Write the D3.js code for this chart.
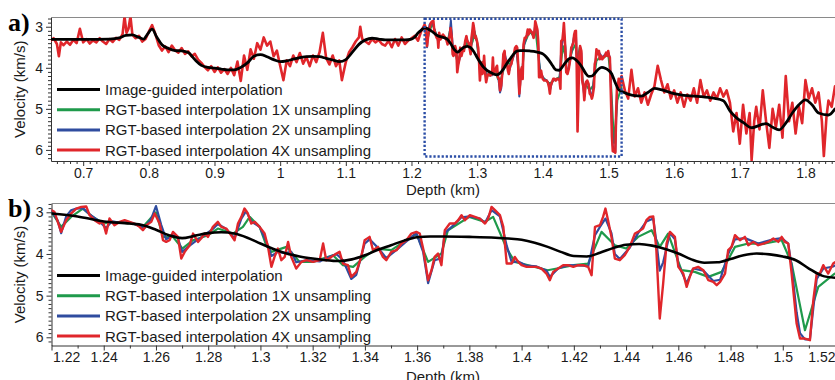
<!DOCTYPE html>
<html>
<head>
<meta charset="utf-8">
<script src="https://cdn.jsdelivr.net/npm/d3@7/dist/d3.min.js"></script>
<style>
  body { margin: 0; background: #fff; }
  svg { display: block; font-family: "Liberation Sans", Arial, Helvetica, sans-serif; }
</style>
</head>
<body>
<svg id="chart" width="835" height="380"></svg>
<script>
// ---- axis ticks and legend text ----
const depthTicksA = [0.7, 0.8, 0.9, 1, 1.1, 1.2, 1.3, 1.4, 1.5, 1.6, 1.7, 1.8];
const depthTicksB = [1.22, 1.24, 1.26, 1.28, 1.3, 1.32, 1.34, 1.36, 1.38, 1.4, 1.42, 1.44, 1.46, 1.48, 1.5, 1.52];
const velocityTicks = [3, 4, 5, 6];
const seriesLabels = [
  "Image-guided interpolation",
  "RGT-based interpolation 1X unsampling",
  "RGT-based interpolation 2X unsampling",
  "RGT-based interpolation 4X unsampling"
];
const zoomWindow = { depth: [1.22, 1.52], velocity: [2.805, 6.16] };

// ---- image-guided interpolation: [depth km, velocity km/s] ----
const imageGuidedUpper = [
  [0.650,3.31],[0.700,3.31],[0.740,3.30],[0.755,3.27],[0.765,3.21],[0.775,3.20],[0.785,3.26],[0.792,3.30],
  [0.798,3.18],[0.805,3.06],[0.812,3.25],[0.820,3.44],[0.830,3.53],[0.840,3.58],[0.850,3.59],[0.860,3.63],
  [0.870,3.80],[0.880,3.94],[0.890,3.99],[0.900,4.01],[0.910,4.03],[0.920,4.05],[0.930,4.05],[0.940,3.99],
  [0.950,3.88],[0.960,3.72],[0.970,3.68],[0.980,3.73],[0.990,3.80],[1.000,3.85],[1.010,3.83],[1.020,3.79],
  [1.030,3.75],[1.040,3.73],[1.050,3.72],[1.060,3.73],[1.070,3.77],[1.080,3.81],[1.090,3.85],[1.100,3.80],
  [1.110,3.62],[1.120,3.43],[1.130,3.32],[1.140,3.28],[1.150,3.30],[1.160,3.32],[1.170,3.32],[1.180,3.32],
  [1.190,3.32],[1.200,3.30],[1.205,3.25],[1.210,3.15],[1.215,3.08]
];
const imageGuidedZoom = [
  [1.220,3.03],[1.230,3.10],[1.240,3.22],[1.250,3.27],[1.255,3.31],[1.260,3.42],[1.265,3.55],[1.270,3.62],
  [1.275,3.56],[1.280,3.50],[1.285,3.48],[1.290,3.51],[1.295,3.61],[1.300,3.75],[1.305,3.88],[1.310,3.99],
  [1.315,4.06],[1.320,4.11],[1.325,4.15],[1.330,4.17],[1.335,4.13],[1.340,4.03],[1.345,3.90],[1.350,3.79],
  [1.355,3.68],[1.360,3.60],[1.365,3.58],[1.370,3.58],[1.380,3.59],[1.390,3.61],[1.395,3.63],[1.400,3.66],
  [1.405,3.73],[1.410,3.83],[1.415,3.95],[1.420,4.05],[1.425,4.06],[1.430,3.97],[1.435,3.86],[1.440,3.78],
  [1.445,3.76],[1.450,3.80],[1.455,3.88],[1.460,3.99],[1.465,4.13],[1.470,4.21],[1.475,4.20],[1.480,4.12],
  [1.485,4.03],[1.490,3.99],[1.495,4.01],[1.500,4.06],[1.505,4.15],[1.510,4.35],[1.515,4.52],[1.520,4.57]
];
const imageGuidedLower = [
  [1.530,4.64],[1.540,4.68],[1.550,4.69],[1.560,4.60],[1.570,4.50],[1.580,4.53],[1.590,4.58],[1.600,4.63],
  [1.610,4.66],[1.620,4.68],[1.640,4.70],[1.660,4.74],[1.675,4.80],[1.685,5.05],[1.695,5.22],[1.705,5.33],
  [1.718,5.46],[1.730,5.40],[1.740,5.36],[1.750,5.45],[1.760,5.51],[1.770,5.35],[1.780,5.10],[1.790,4.90],
  [1.800,4.78],[1.810,4.90],[1.820,5.10],[1.835,5.15],[1.845,5.00]
];

// ---- RGT-based interpolation, 4X ----
const rgt4xUpper = [
  [0.650,3.35],[0.655,3.28],[0.660,3.42],[0.663,3.72],[0.666,3.38],[0.670,3.45],[0.675,3.36],[0.680,3.44],
  [0.685,3.32],[0.690,3.40],[0.695,3.05],[0.700,3.38],[0.705,3.30],[0.710,3.41],[0.715,3.33],[0.720,3.38],
  [0.725,3.28],[0.730,3.36],[0.735,3.42],[0.740,3.30],[0.745,3.37],[0.750,3.27],[0.755,3.32],[0.760,3.18],
  [0.763,2.75],[0.766,3.15],[0.769,3.05],[0.772,2.75],[0.775,3.20],[0.780,3.28],[0.785,3.22],[0.790,3.36],
  [0.795,3.30],[0.800,3.12],[0.805,2.96],[0.810,3.18],[0.815,3.45],[0.820,3.58],[0.825,3.48],[0.830,3.62],
  [0.835,3.46],[0.840,3.57],[0.845,3.63],[0.850,3.52],[0.855,3.66],[0.860,3.60],[0.865,3.72],[0.870,3.66],
  [0.875,3.80],[0.880,3.88],[0.885,3.98],[0.890,4.06],[0.895,3.96],[0.900,4.10],[0.905,3.99],[0.910,4.12],
  [0.915,4.03],[0.920,4.15],[0.925,4.00],[0.930,4.18],[0.935,3.85],[0.940,4.32],[0.945,3.70],[0.950,4.05],
  [0.955,3.55],[0.960,3.78],[0.965,3.40],[0.970,3.56],[0.975,3.26],[0.980,3.46],[0.985,3.36],[0.990,3.72],
  [0.995,3.58],[1.000,3.95],[1.005,4.30],[1.010,3.82],[1.015,3.96],[1.020,3.70],[1.025,3.86],[1.030,3.64],
  [1.035,3.90],[1.040,3.74],[1.045,3.96],[1.050,3.70],[1.055,3.86],[1.060,3.62],[1.065,3.15],[1.070,3.76],
  [1.075,3.92],[1.080,3.70],[1.085,3.96],[1.090,3.82],[1.094,4.30],[1.100,3.86],[1.105,3.62],[1.110,3.50],
  [1.115,3.36],[1.120,3.26],[1.122,3.00],[1.125,3.30],[1.130,3.36],[1.135,3.42],[1.140,3.30],[1.145,3.38],
  [1.150,3.32],[1.155,3.42],[1.160,3.46],[1.165,3.34],[1.170,3.50],[1.175,3.30],[1.180,3.46],[1.185,3.26],
  [1.190,3.42],[1.195,3.34],[1.200,3.28],[1.205,3.22],[1.210,3.34],[1.215,3.10]
];
const rgt4xZoom = [
  [1.2200,2.95],[1.2211,2.99],[1.2237,3.47],[1.2256,3.19],[1.2275,3.03],[1.2295,2.91],[1.2314,2.87],[1.2333,2.86],
  [1.2346,3.07],[1.2365,3.19],[1.2384,3.27],[1.2397,3.23],[1.2409,3.51],[1.2422,3.15],[1.2441,3.31],[1.2461,3.23],
  [1.2480,3.19],[1.2499,3.23],[1.2518,3.27],[1.2537,3.35],[1.2550,3.43],[1.2563,3.31],[1.2582,3.23],[1.2595,3.03],
  [1.2614,3.27],[1.2627,3.67],[1.2639,3.71],[1.2652,3.67],[1.2665,3.47],[1.2684,3.59],[1.2697,4.11],[1.2710,3.95],
  [1.2729,3.79],[1.2742,3.51],[1.2761,3.71],[1.2773,3.63],[1.2786,3.51],[1.2799,3.59],[1.2818,3.35],[1.2837,3.23],
  [1.2850,3.35],[1.2869,3.39],[1.2888,3.55],[1.2901,3.67],[1.2914,3.27],[1.2927,3.11],[1.2939,2.91],[1.2952,3.03],
  [1.2965,3.27],[1.2978,3.23],[1.2997,3.35],[1.3016,3.51],[1.3029,3.83],[1.3042,4.31],[1.3054,4.07],[1.3067,3.87],
  [1.3080,4.15],[1.3093,4.07],[1.3106,3.71],[1.3118,4.07],[1.3137,4.35],[1.3157,4.19],[1.3176,4.15],[1.3201,4.19],
  [1.3227,4.15],[1.3240,3.75],[1.3252,4.15],[1.3272,4.07],[1.3291,3.99],[1.3303,3.95],[1.3316,4.23],[1.3335,4.27],
  [1.3348,4.55],[1.3367,4.43],[1.3386,4.07],[1.3399,3.67],[1.3418,3.59],[1.3431,3.91],[1.3450,3.83],[1.3469,4.07],
  [1.3482,4.15],[1.3501,3.95],[1.3521,3.91],[1.3540,3.75],[1.3559,3.67],[1.3578,3.51],[1.3597,3.47],[1.3610,3.51],
  [1.3623,3.87],[1.3642,4.63],[1.3655,4.39],[1.3667,4.07],[1.3680,3.99],[1.3693,4.27],[1.3706,3.43],[1.3725,3.27],
  [1.3744,3.27],[1.3757,3.19],[1.3770,3.07],[1.3783,3.19],[1.3802,3.07],[1.3821,3.11],[1.3840,3.15],[1.3860,3.27],
  [1.3872,3.15],[1.3885,2.87],[1.3898,2.95],[1.3917,3.07],[1.3930,3.35],[1.3943,4.23],[1.3962,4.23],[1.3974,4.07],
  [1.3987,4.19],[1.4000,4.27],[1.4019,4.31],[1.4038,4.31],[1.4057,4.31],[1.4076,4.35],[1.4095,4.47],[1.4108,4.63],
  [1.4121,4.43],[1.4140,4.35],[1.4159,4.27],[1.4178,4.27],[1.4198,4.31],[1.4217,4.27],[1.4236,4.27],[1.4255,4.31],
  [1.4268,4.51],[1.4281,3.35],[1.4300,3.31],[1.4312,3.11],[1.4321,2.91],[1.4331,3.19],[1.4344,3.59],[1.4357,4.11],
  [1.4376,4.15],[1.4395,4.03],[1.4414,3.83],[1.4434,3.51],[1.4446,3.47],[1.4465,3.39],[1.4478,3.19],[1.4491,3.11],
  [1.4504,3.10],[1.4516,3.91],[1.4529,5.55],[1.4542,4.71],[1.4555,3.75],[1.4568,3.47],[1.4587,3.59],[1.4600,4.31],
  [1.4619,4.47],[1.4632,4.79],[1.4644,4.55],[1.4657,4.35],[1.4676,4.31],[1.4696,4.39],[1.4715,4.63],[1.4734,4.67],
  [1.4747,4.75],[1.4760,4.67],[1.4779,4.47],[1.4791,3.91],[1.4804,3.83],[1.4817,3.55],[1.4836,3.67],[1.4855,3.59],
  [1.4868,3.79],[1.4887,3.71],[1.4906,3.79],[1.4926,3.75],[1.4945,3.71],[1.4964,3.63],[1.4983,3.71],[1.4996,3.59],
  [1.5008,3.71],[1.5021,3.75],[1.5034,4.47],[1.5053,5.67],[1.5066,6.03],[1.5085,6.03],[1.5104,6.07],[1.5117,5.11],
  [1.5130,4.47],[1.5142,4.47],[1.5155,4.27],[1.5174,4.47],[1.5193,4.23],[1.5200,4.20]
];
const rgt4xLower = [
  [1.525,4.55],[1.530,4.75],[1.535,4.05],[1.540,4.70],[1.545,4.50],[1.550,4.85],[1.555,4.60],[1.560,4.90],
  [1.565,4.65],[1.570,4.45],[1.575,3.95],[1.580,4.30],[1.585,4.60],[1.590,4.40],[1.595,4.75],[1.600,4.55],
  [1.605,4.85],[1.610,4.60],[1.615,4.95],[1.620,4.65],[1.625,4.80],[1.630,4.50],[1.635,4.85],[1.640,4.30],
  [1.645,4.70],[1.650,4.55],[1.655,4.80],[1.660,4.60],[1.665,4.75],[1.670,4.50],[1.675,4.70],[1.680,4.55],
  [1.685,4.85],[1.690,5.55],[1.695,5.10],[1.700,5.85],[1.705,4.90],[1.710,5.60],[1.715,5.10],[1.718,6.25],
  [1.722,5.30],[1.725,4.95],[1.730,5.50],[1.735,4.55],[1.740,5.30],[1.745,5.95],[1.750,5.00],[1.755,5.45],
  [1.760,4.90],[1.765,5.70],[1.770,4.20],[1.775,5.30],[1.780,4.85],[1.785,5.60],[1.790,4.95],[1.795,5.35],
  [1.800,4.30],[1.805,4.75],[1.810,4.50],[1.815,4.85],[1.820,4.60],[1.825,5.30],[1.828,6.15],[1.832,5.20],
  [1.835,4.80],[1.840,4.95],[1.845,4.45]
];

// ---- RGT-based interpolation, 2X (zoomed interval) ----
const rgt2xZoom = [
  [1.2200,2.97],[1.2224,3.20],[1.2237,3.50],[1.2256,3.10],[1.2275,2.95],[1.2295,2.91],[1.2320,2.90],[1.2346,3.05],
  [1.2384,3.22],[1.2409,3.38],[1.2430,3.22],[1.2461,3.25],[1.2499,3.24],[1.2537,3.33],[1.2556,3.38],[1.2582,3.15],
  [1.2600,2.85],[1.2620,3.30],[1.2639,3.65],[1.2665,3.55],[1.2684,3.62],[1.2700,3.95],[1.2729,3.80],[1.2761,3.65],
  [1.2786,3.55],[1.2818,3.40],[1.2837,3.28],[1.2869,3.40],[1.2901,3.62],[1.2927,3.15],[1.2945,2.97],[1.2965,3.22],
  [1.2997,3.35],[1.3029,3.80],[1.3042,4.05],[1.3067,3.95],[1.3093,3.98],[1.3118,3.95],[1.3137,4.20],[1.3176,4.15],
  [1.3227,4.18],[1.3252,4.10],[1.3291,4.00],[1.3316,4.15],[1.3348,4.60],[1.3367,4.50],[1.3399,3.75],[1.3418,3.65],
  [1.3450,3.85],[1.3482,4.10],[1.3521,3.90],[1.3559,3.70],[1.3597,3.50],[1.3623,3.95],[1.3642,4.70],[1.3667,4.15],
  [1.3693,4.10],[1.3706,3.50],[1.3744,3.28],[1.3770,3.12],[1.3802,3.10],[1.3840,3.15],[1.3860,3.25],[1.3885,2.95],
  [1.3917,3.10],[1.3943,3.80],[1.3962,4.20],[1.3987,4.18],[1.4019,4.28],[1.4057,4.30],[1.4095,4.40],[1.4108,4.55],
  [1.4140,4.35],[1.4178,4.27],[1.4236,4.28],[1.4255,4.30],[1.4281,3.55],[1.4300,3.35],[1.4321,3.15],[1.4344,3.50],
  [1.4357,4.00],[1.4376,4.12],[1.4414,3.85],[1.4446,3.50],[1.4478,3.22],[1.4504,3.15],[1.4516,3.70],[1.4529,4.40],
  [1.4542,4.20],[1.4568,3.50],[1.4587,3.65],[1.4600,4.25],[1.4632,4.70],[1.4657,4.35],[1.4696,4.40],[1.4734,4.65],
  [1.4760,4.62],[1.4791,4.00],[1.4817,3.65],[1.4855,3.62],[1.4906,3.75],[1.4964,3.65],[1.4996,3.62],[1.5021,3.75],
  [1.5034,4.30],[1.5053,5.40],[1.5066,5.90],[1.5085,6.05],[1.5104,6.05],[1.5117,5.30],[1.5130,4.60],[1.5155,4.35],
  [1.5193,4.30],[1.5200,4.28]
];

// ---- RGT-based interpolation, 1X (zoomed interval) ----
const rgt1xZoom = [
  [1.2200,2.99],[1.2237,3.35],[1.2275,3.11],[1.2320,2.91],[1.2358,3.11],[1.2400,3.27],[1.2435,3.23],[1.2512,3.27],
  [1.2550,3.35],[1.2600,3.00],[1.2627,3.59],[1.2665,3.59],[1.2701,3.87],[1.2742,3.67],[1.2800,3.55],[1.2837,3.39],
  [1.2895,3.51],[1.2933,3.35],[1.2959,3.11],[1.2997,3.35],[1.3022,3.79],[1.3042,3.95],[1.3100,3.83],[1.3150,4.19],
  [1.3201,4.19],[1.3278,4.03],[1.3316,4.27],[1.3355,4.31],[1.3399,4.07],[1.3444,3.87],[1.3501,3.91],[1.3597,3.51],
  [1.3642,4.19],[1.3693,3.99],[1.3718,3.43],[1.3800,3.11],[1.3860,3.23],[1.3891,3.11],[1.3943,3.87],[1.3974,4.19],
  [1.4100,4.39],[1.4200,4.27],[1.4255,4.23],[1.4306,3.47],[1.4357,3.79],[1.4400,3.87],[1.4446,3.59],[1.4498,3.43],
  [1.4529,3.83],[1.4561,3.51],[1.4612,4.39],[1.4663,4.43],[1.4715,4.55],[1.4766,4.43],[1.4817,3.83],[1.4868,3.75],
  [1.4932,3.75],[1.4996,3.67],[1.5034,4.23],[1.5085,5.83],[1.5136,4.79],[1.5199,4.47]
];

// ---- drawing ----
const W = 835;
const svg = d3.select("#chart");
const defs = svg.append("defs");

const style = {
  colors: ["#000000", "#1f9a4b", "#2f4c9f", "#e0262b"],
  axis: "#333333",
  frame: "#8a8a8a",
  window: "#2b4ea6",
  text: "#1a1a1a"
};

const panels = [
  {
    id: "a", tag: "a)",
    depth: [0.651, 1.845], velocity: [2.775, 6.27],
    x0: 51, x1: W, y0: 17.5, y1: 161,
    ticks: depthTicksA, titleGap: 33.5,
    series: [
      imageGuidedUpper.concat(imageGuidedZoom, imageGuidedLower),
      rgt1xZoom,
      rgt2xZoom,
      rgt4xUpper.concat(rgt4xZoom, rgt4xLower)
    ],
    widths: [2.8, 2.0, 2.0, 2.6],
    showWindow: true
  },
  {
    id: "b", tag: "b)",
    depth: [1.22, 1.52], velocity: [2.789, 6.197],
    x0: 51.5, x1: W, y0: 203.5, y1: 345.5,
    ticks: depthTicksB, titleGap: 36.5,
    series: [imageGuidedZoom, rgt1xZoom, rgt2xZoom, rgt4xZoom],
    widths: [2.6, 2.2, 2.2, 2.4],
    showWindow: false
  }
];

panels.forEach(p => {
  const x = d3.scaleLinear().domain(p.depth).range([p.x0, p.x1]);
  const y = d3.scaleLinear().domain(p.velocity).range([p.y0, p.y1]);
  const g = svg.append("g").attr("class", "panel-" + p.id);

  // clip for the plotting area
  const clipId = "clip-" + p.id;
  defs.append("clipPath").attr("id", clipId)
    .append("rect").attr("x", p.x0).attr("y", p.y0)
    .attr("width", p.x1 - p.x0).attr("height", p.y1 - p.y0);

  // top frame line
  g.append("line")
    .attr("x1", p.x0).attr("x2", p.x1)
    .attr("y1", p.y0).attr("y2", p.y0)
    .attr("stroke", style.frame).attr("stroke-width", 1);

  // minor ticks
  const minorX = d3.range(Math.ceil(p.depth[0] * 100), Math.floor(p.depth[1] * 100) + 1)
    .map(i => i / 100)
    .filter(v => !p.ticks.some(t => Math.abs(t - v) < 1e-6));
  const minorY = d3.range(28, 63).map(i => i / 10)
    .filter(v => v >= p.velocity[0] && v <= p.velocity[1] && !velocityTicks.includes(v));

  g.append("g")
    .attr("transform", `translate(0,${p.y1})`)
    .call(d3.axisBottom(x).tickValues(minorX).tickSize(3).tickFormat(""))
    .call(a => a.select(".domain").remove())
    .call(a => a.selectAll("line").attr("stroke", style.axis));

  g.append("g")
    .attr("transform", `translate(${p.x0},0)`)
    .call(d3.axisLeft(y).tickValues(minorY).tickSize(3).tickFormat(""))
    .call(a => a.select(".domain").remove())
    .call(a => a.selectAll("line").attr("stroke", style.axis));

  // major x axis
  const xa = g.append("g")
    .attr("transform", `translate(0,${p.y1})`)
    .call(d3.axisBottom(x).tickValues(p.ticks).tickSize(5).tickPadding(2)
      .tickFormat(d3.format("~g")).tickSizeOuter(0));
  xa.select(".domain").attr("stroke", style.axis);
  xa.selectAll("line").attr("stroke", style.axis);
  xa.selectAll("text").attr("font-size", 14).attr("fill", style.text)
    .attr("font-family", "Liberation Sans, Arial, sans-serif");
  // keep edge labels inside the panel width
  xa.selectAll(".tick").each(function (d) {
    const t = d3.select(this).select("text");
    const w = t.node().getComputedTextLength();
    const cx = x(d);
    if (cx - w / 2 < p.x0) t.attr("text-anchor", "start").attr("x", p.x0 - cx + 1);
    if (cx + w / 2 > W) t.attr("text-anchor", "end").attr("x", W - cx);
  });

  // major y axis
  const ya = g.append("g")
    .attr("transform", `translate(${p.x0},0)`)
    .call(d3.axisLeft(y).tickValues(velocityTicks).tickSize(5).tickPadding(3)
      .tickFormat(d3.format("d")).tickSizeOuter(0));
  ya.select(".domain").attr("stroke", style.axis);
  ya.selectAll("line").attr("stroke", style.axis);
  ya.selectAll("text").attr("font-size", 14).attr("fill", style.text)
    .attr("font-family", "Liberation Sans, Arial, sans-serif");

  // velocity curves
  const plot = g.append("g").attr("clip-path", `url(#${clipId})`);
  const jagged = d3.line().x(d => x(d[0])).y(d => y(d[1])).curve(d3.curveLinear);
  const smooth = d3.line().x(d => x(d[0])).y(d => y(d[1])).curve(d3.curveMonotoneX);

  [1, 2, 3, 0].forEach(i => {
    plot.append("path")
      .datum(p.series[i])
      .attr("d", i === 0 ? smooth : jagged)
      .attr("fill", "none")
      .attr("stroke", style.colors[i])
      .attr("stroke-width", p.widths[i])
      .attr("stroke-linejoin", "round")
      .attr("stroke-linecap", "round");
  });

  // outline of the interval shown in panel b
  if (p.showWindow) {
    g.append("rect")
      .attr("x", x(zoomWindow.depth[0]))
      .attr("y", y(zoomWindow.velocity[0]))
      .attr("width", x(zoomWindow.depth[1]) - x(zoomWindow.depth[0]))
      .attr("height", y(zoomWindow.velocity[1]) - y(zoomWindow.velocity[0]))
      .attr("fill", "none")
      .attr("stroke", style.window)
      .attr("stroke-width", 2.4)
      .attr("stroke-dasharray", "2.2 1.9");
  }

  // legend
  const lg = g.append("g").attr("transform", `translate(57,${p.y0 + 72})`);
  seriesLabels.forEach((label, i) => {
    const row = lg.append("g").attr("transform", `translate(0,${i * 20.2})`);
    row.append("line").attr("x1", 0).attr("x2", 43).attr("y1", 0).attr("y2", 0)
      .attr("stroke", style.colors[i]).attr("stroke-width", 3);
    row.append("text").attr("x", 48).attr("y", 0).attr("dy", "0.36em")
      .attr("font-size", 15).attr("fill", style.text).text(label);
  });

  // axis titles
  g.append("text")
    .attr("transform", `translate(20,${(p.y0 + p.y1) / 2}) rotate(-90)`)
    .attr("text-anchor", "middle").attr("dy", "0.36em")
    .attr("font-size", 15).attr("fill", style.text)
    .text("Velocity (km/s)");
  g.append("text")
    .attr("x", 443).attr("y", p.y1 + p.titleGap)
    .attr("text-anchor", "middle")
    .attr("font-size", 15).attr("fill", style.text)
    .text("Depth (km)");

  // panel letter
  g.append("text")
    .attr("x", 8).attr("y", p.y0 + 13)
    .attr("font-family", "Liberation Serif, Times New Roman, serif")
    .attr("font-weight", "bold").attr("font-size", 26).attr("fill", "#000")
    .text(p.tag);
});
</script>
</body>
</html>
